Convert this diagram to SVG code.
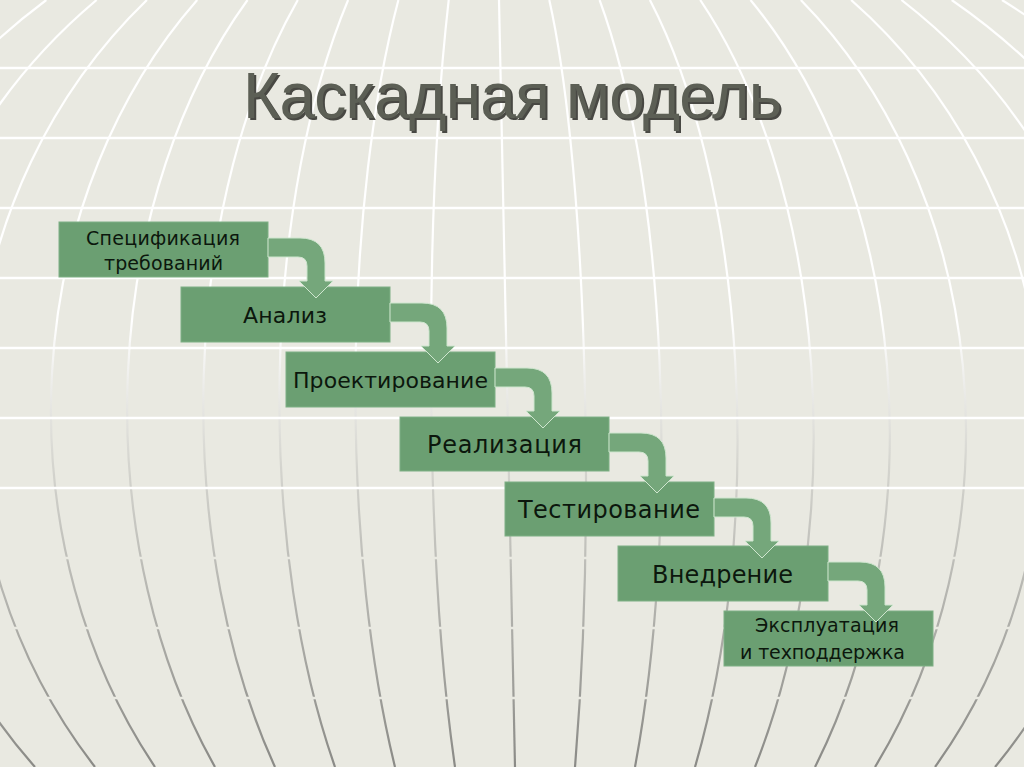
<svg xmlns="http://www.w3.org/2000/svg" xmlns:xlink="http://www.w3.org/1999/xlink" width="1024" height="767" viewBox="0 0 1024 767">
<defs>
<linearGradient id="mer" gradientUnits="userSpaceOnUse" x1="0" y1="0" x2="0" y2="767">
<stop offset="0" stop-color="#ffffff"/>
<stop offset="0.42" stop-color="#ffffff"/>
<stop offset="0.6" stop-color="#d6d6d0"/>
<stop offset="0.82" stop-color="#adada8"/>
<stop offset="1" stop-color="#8a8a86"/>
</linearGradient>
<path id="bend" d="M 0,16 L 32,16 Q 57,16 57,41 L 57,59 L 65,59 L 48,76 L 31,59 L 39,59 L 39,44 Q 39,35 30,35 L 0,35 Z"/>
</defs>
<style>
.mer{fill:none;stroke:url(#mer);stroke-width:2.2}
.hl{stroke:#ffffff;stroke-width:2.5}
.hl2{stroke:#e9e9e1;stroke-width:2.5}
.box{fill:#6b9f72;stroke:#7fb085;stroke-width:1}
.arr{fill:#75a77b;stroke:#cfe6cf;stroke-width:1}
.t{font-family:"DejaVu Sans","Liberation Sans",sans-serif;fill:#0c170d}
.title{font-family:"Liberation Sans",Arial,sans-serif;font-size:64px}
</style>
<rect width="1024" height="767" fill="#e9e9e1"/>
<g id="background">
<path class="mer" d="M 499,0 L 515,767"/>
<path class="mer" d="M 549.3,0 A 76,560 0 0,1 575,767"/>
<path class="mer" d="M 599.6,0 A 152,560 0 0,1 635,767"/>
<path class="mer" d="M 649.9,0 A 228,560 0 0,1 695,767"/>
<path class="mer" d="M 700.2,0 A 304,560 0 0,1 755,767"/>
<path class="mer" d="M 750.5,0 A 380,560 0 0,1 815,767"/>
<path class="mer" d="M 800.8,0 A 456,560 0 0,1 875,767"/>
<path class="mer" d="M 851.1,0 A 532,560 0 0,1 935,767"/>
<path class="mer" d="M 901.4,0 A 608,560 0 0,1 995,767"/>
<path class="mer" d="M 951.7,0 A 684,560 0 0,1 1055,767"/>
<path class="mer" d="M 1002,0 A 760,560 0 0,1 1115,767"/>
<path class="mer" d="M 448.7,0 A 76,560 0 0,0 455,767"/>
<path class="mer" d="M 398.4,0 A 152,560 0 0,0 395,767"/>
<path class="mer" d="M 348.1,0 A 228,560 0 0,0 335,767"/>
<path class="mer" d="M 297.8,0 A 304,560 0 0,0 275,767"/>
<path class="mer" d="M 247.5,0 A 380,560 0 0,0 215,767"/>
<path class="mer" d="M 197.2,0 A 456,560 0 0,0 155,767"/>
<path class="mer" d="M 146.9,0 A 532,560 0 0,0 95,767"/>
<path class="mer" d="M 96.6,0 A 608,560 0 0,0 35,767"/>
<path class="mer" d="M 46.3,0 A 684,560 0 0,0 -25,767"/>
<path class="mer" d="M -4,0 A 760,560 0 0,0 -85,767"/>
<line class="hl" x1="0" y1="68" x2="1024" y2="68"/>
<line class="hl" x1="0" y1="138" x2="1024" y2="138"/>
<line class="hl" x1="0" y1="208" x2="1024" y2="208"/>
<line class="hl" x1="0" y1="278" x2="1024" y2="278"/>
<line class="hl" x1="0" y1="348" x2="1024" y2="348"/>
<line class="hl" x1="0" y1="418" x2="1024" y2="418"/>
<line class="hl" x1="0" y1="488" x2="1024" y2="488"/>
<line class="hl2" x1="0" y1="558" x2="1024" y2="558"/>
<line class="hl2" x1="0" y1="628" x2="1024" y2="628"/>
<line class="hl2" x1="0" y1="698" x2="1024" y2="698"/>
</g>
<g id="title">
<text class="title" x="245" y="120" textLength="539" fill="#2b2b27" fill-opacity="0.85">Каскадная модель</text>
<text class="title" x="243" y="118" textLength="539" fill="#5c5f55">Каскадная модель</text>
</g>
<g id="node-spec">
<rect class="box" x="59" y="222" width="209" height="55"/>
<text class="t" x="86" y="245" font-size="19" textLength="154">Спецификация</text>
<text class="t" x="104" y="270" font-size="19" textLength="119">требований</text>
</g>
<g id="node-analysis">
<rect class="box" x="181" y="287" width="209" height="55"/>
<text class="t" x="243" y="323" font-size="22" textLength="84">Анализ</text>
</g>
<g id="node-design">
<rect class="box" x="286" y="352" width="209" height="55"/>
<text class="t" x="293" y="388" font-size="22" textLength="195">Проектирование</text>
</g>
<g id="node-impl">
<rect class="box" x="400" y="417" width="209" height="54"/>
<text class="t" x="427" y="453" font-size="24" textLength="155">Реализация</text>
</g>
<g id="node-test">
<rect class="box" x="505" y="482" width="209" height="54"/>
<text class="t" x="518" y="518" font-size="24" textLength="182">Тестирование</text>
</g>
<g id="node-deploy">
<rect class="box" x="618" y="546" width="210" height="55"/>
<text class="t" x="652" y="583" font-size="24" textLength="141">Внедрение</text>
</g>
<g id="node-support">
<rect class="box" x="724" y="611" width="209" height="55"/>
<text class="t" x="755" y="632" font-size="19" textLength="144">Эксплуатация</text>
<text class="t" x="740" y="659" font-size="19" textLength="165">и техподдержка</text>
</g>
<g id="connectors">
<use xlink:href="#bend" class="arr" x="268" y="222"/>
<use xlink:href="#bend" class="arr" x="390" y="287"/>
<use xlink:href="#bend" class="arr" x="495" y="352"/>
<use xlink:href="#bend" class="arr" x="609" y="417"/>
<use xlink:href="#bend" class="arr" x="714" y="482"/>
<use xlink:href="#bend" class="arr" x="828" y="546"/>
</g>
</svg>
